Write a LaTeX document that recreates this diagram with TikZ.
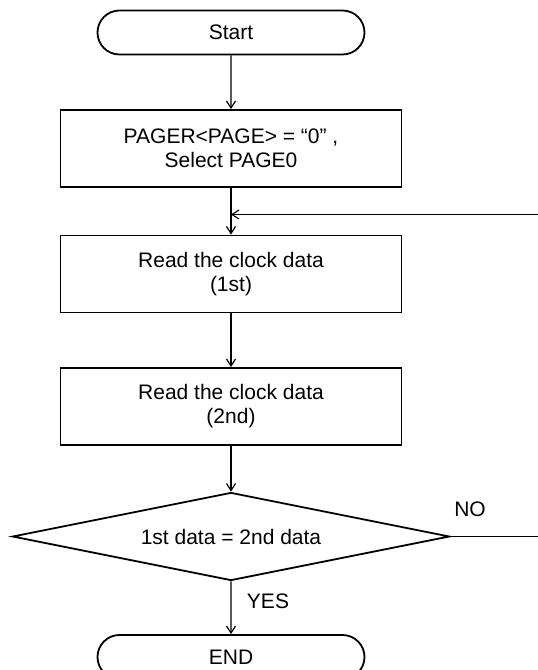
\documentclass[tikz,border=0pt]{standalone}
\usepackage{fontspec}
\setmainfont{Liberation Sans}
\usetikzlibrary{shapes.geometric,shapes.misc,arrows.meta}
\tikzset{
  base/.style={draw, line width=1.8pt, align=center, inner sep=0pt, font=\fontsize{21}{24}\selectfont},
  terminal/.style={base, rounded rectangle, minimum width=267pt, minimum height=44pt},
  procbox/.style={base, rectangle, minimum width=341pt, minimum height=77pt},
  decision/.style={base, diamond, shape aspect=4.966, minimum width=437pt, minimum height=88pt},
  flow/.style={line width=1.4pt, -{Straight Barb[length=7pt,width=9pt,line width=1.2pt]}},
  backflow/.style={line width=1.1pt, -{Straight Barb[length=7pt,width=9pt,line width=1.1pt]}},
  lbl/.style={font=\fontsize{21}{24}\selectfont, inner sep=0pt}
}
\begin{document}
\begin{tikzpicture}[x=1pt,y=-1pt]
\useasboundingbox (0,0) rectangle (538,670);
\node[terminal] (start) at (231,32.5) {Start};
\node[procbox] (p1) at (231,148.5) {PAGER<PAGE> = “0” ,\\Select PAGE0};
\node[procbox] (p2) at (231,274) {Read the clock data\\(1st)};
\node[procbox] (p3) at (231,406.5) {Read the clock data\\(2nd)};
\node[decision] (d) at (231,536.5) {1st data = 2nd data};
\node[terminal] (end) at (231,657) {END};
\coordinate (join) at (231,214.5);
\coordinate (r1) at (541,536.5);
\coordinate (r2) at (541,214.5);
\draw[flow] (start) -- (p1);
\draw[flow] (p1) -- (p2);
\draw[flow] (p2) -- (p3);
\draw[flow] (p3) -- (d);
\draw[flow] (d) -- (end);
\draw[backflow] (d.east) -- (r1) -- (r2) -- (join);
\node[lbl] (no) at (470,509) {NO};
\node[lbl] (yes) at (268,601) {YES};
\end{tikzpicture}
\end{document}
